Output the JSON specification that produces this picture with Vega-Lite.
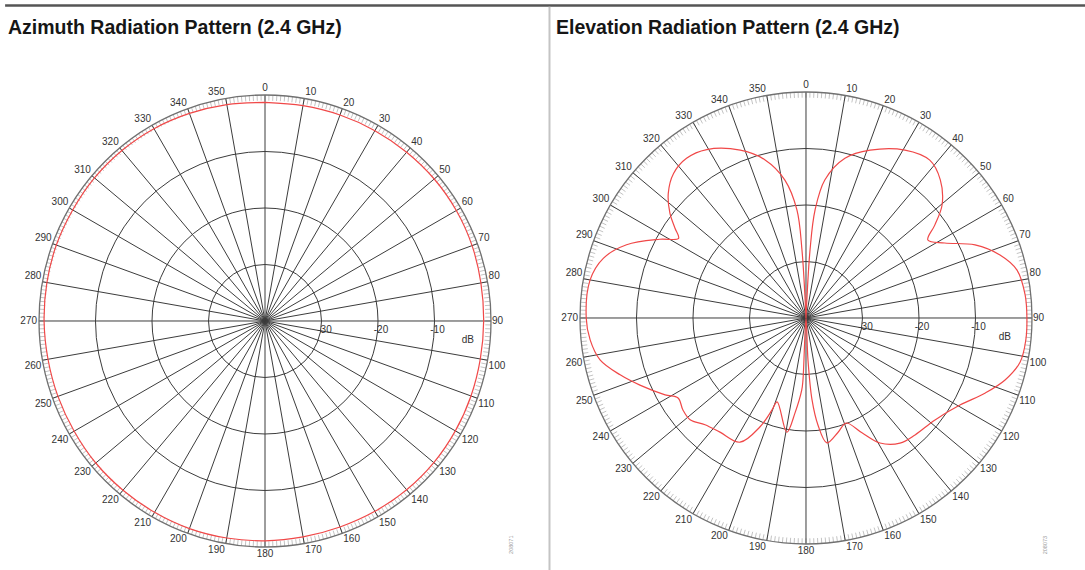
{
  "$schema": "https://vega.github.io/schema/vega-lite/v6.json",
  "padding": 0,
  "spacing": 0,
  "bounds": "flush",
  "background": "white",
  "config": {
    "view": {"stroke": null},
    "title": {"font": "Liberation Sans, Arial, sans-serif", "fontSize": 19.5, "fontWeight": "bold", "anchor": "start", "frame": "group", "offset": -38, "baseline": "alphabetic", "color": "#161616"},
    "text": {"font": "Liberation Sans, Arial, sans-serif", "fontSize": 10, "fill": "#333333"}
  },
  "datasets": {
    "deg": [{"a":0},{"a":1},{"a":2},{"a":3},{"a":4},{"a":5},{"a":6},{"a":7},{"a":8},{"a":9},{"a":10},{"a":11},{"a":12},{"a":13},{"a":14},{"a":15},{"a":16},{"a":17},{"a":18},{"a":19},{"a":20},{"a":21},{"a":22},{"a":23},{"a":24},{"a":25},{"a":26},{"a":27},{"a":28},{"a":29},{"a":30},{"a":31},{"a":32},{"a":33},{"a":34},{"a":35},{"a":36},{"a":37},{"a":38},{"a":39},{"a":40},{"a":41},{"a":42},{"a":43},{"a":44},{"a":45},{"a":46},{"a":47},{"a":48},{"a":49},{"a":50},{"a":51},{"a":52},{"a":53},{"a":54},{"a":55},{"a":56},{"a":57},{"a":58},{"a":59},{"a":60},{"a":61},{"a":62},{"a":63},{"a":64},{"a":65},{"a":66},{"a":67},{"a":68},{"a":69},{"a":70},{"a":71},{"a":72},{"a":73},{"a":74},{"a":75},{"a":76},{"a":77},{"a":78},{"a":79},{"a":80},{"a":81},{"a":82},{"a":83},{"a":84},{"a":85},{"a":86},{"a":87},{"a":88},{"a":89},{"a":90},{"a":91},{"a":92},{"a":93},{"a":94},{"a":95},{"a":96},{"a":97},{"a":98},{"a":99},{"a":100},{"a":101},{"a":102},{"a":103},{"a":104},{"a":105},{"a":106},{"a":107},{"a":108},{"a":109},{"a":110},{"a":111},{"a":112},{"a":113},{"a":114},{"a":115},{"a":116},{"a":117},{"a":118},{"a":119},{"a":120},{"a":121},{"a":122},{"a":123},{"a":124},{"a":125},{"a":126},{"a":127},{"a":128},{"a":129},{"a":130},{"a":131},{"a":132},{"a":133},{"a":134},{"a":135},{"a":136},{"a":137},{"a":138},{"a":139},{"a":140},{"a":141},{"a":142},{"a":143},{"a":144},{"a":145},{"a":146},{"a":147},{"a":148},{"a":149},{"a":150},{"a":151},{"a":152},{"a":153},{"a":154},{"a":155},{"a":156},{"a":157},{"a":158},{"a":159},{"a":160},{"a":161},{"a":162},{"a":163},{"a":164},{"a":165},{"a":166},{"a":167},{"a":168},{"a":169},{"a":170},{"a":171},{"a":172},{"a":173},{"a":174},{"a":175},{"a":176},{"a":177},{"a":178},{"a":179},{"a":180},{"a":181},{"a":182},{"a":183},{"a":184},{"a":185},{"a":186},{"a":187},{"a":188},{"a":189},{"a":190},{"a":191},{"a":192},{"a":193},{"a":194},{"a":195},{"a":196},{"a":197},{"a":198},{"a":199},{"a":200},{"a":201},{"a":202},{"a":203},{"a":204},{"a":205},{"a":206},{"a":207},{"a":208},{"a":209},{"a":210},{"a":211},{"a":212},{"a":213},{"a":214},{"a":215},{"a":216},{"a":217},{"a":218},{"a":219},{"a":220},{"a":221},{"a":222},{"a":223},{"a":224},{"a":225},{"a":226},{"a":227},{"a":228},{"a":229},{"a":230},{"a":231},{"a":232},{"a":233},{"a":234},{"a":235},{"a":236},{"a":237},{"a":238},{"a":239},{"a":240},{"a":241},{"a":242},{"a":243},{"a":244},{"a":245},{"a":246},{"a":247},{"a":248},{"a":249},{"a":250},{"a":251},{"a":252},{"a":253},{"a":254},{"a":255},{"a":256},{"a":257},{"a":258},{"a":259},{"a":260},{"a":261},{"a":262},{"a":263},{"a":264},{"a":265},{"a":266},{"a":267},{"a":268},{"a":269},{"a":270},{"a":271},{"a":272},{"a":273},{"a":274},{"a":275},{"a":276},{"a":277},{"a":278},{"a":279},{"a":280},{"a":281},{"a":282},{"a":283},{"a":284},{"a":285},{"a":286},{"a":287},{"a":288},{"a":289},{"a":290},{"a":291},{"a":292},{"a":293},{"a":294},{"a":295},{"a":296},{"a":297},{"a":298},{"a":299},{"a":300},{"a":301},{"a":302},{"a":303},{"a":304},{"a":305},{"a":306},{"a":307},{"a":308},{"a":309},{"a":310},{"a":311},{"a":312},{"a":313},{"a":314},{"a":315},{"a":316},{"a":317},{"a":318},{"a":319},{"a":320},{"a":321},{"a":322},{"a":323},{"a":324},{"a":325},{"a":326},{"a":327},{"a":328},{"a":329},{"a":330},{"a":331},{"a":332},{"a":333},{"a":334},{"a":335},{"a":336},{"a":337},{"a":338},{"a":339},{"a":340},{"a":341},{"a":342},{"a":343},{"a":344},{"a":345},{"a":346},{"a":347},{"a":348},{"a":349},{"a":350},{"a":351},{"a":352},{"a":353},{"a":354},{"a":355},{"a":356},{"a":357},{"a":358},{"a":359}],
    "rings": [{"db": -10, "lab": "-10"}, {"db": -20, "lab": "-20"}, {"db": -30, "lab": "-30"}],
    "outer": [{"db": 0}],
    "az": [{"a":0,"db":-1.3},{"a":10,"db":-1.3},{"a":20,"db":-1.2},{"a":30,"db":-1.1},{"a":40,"db":-1.0},{"a":50,"db":-0.9},{"a":60,"db":-0.9},{"a":70,"db":-1.0},{"a":80,"db":-1.2},{"a":90,"db":-1.3},{"a":100,"db":-1.3},{"a":110,"db":-1.2},{"a":120,"db":-1.1},{"a":130,"db":-1.0},{"a":140,"db":-1.0},{"a":150,"db":-1.1},{"a":160,"db":-1.2},{"a":170,"db":-1.2},{"a":180,"db":-1.1},{"a":190,"db":-1.0},{"a":200,"db":-0.9},{"a":210,"db":-0.9},{"a":220,"db":-0.9},{"a":230,"db":-0.9},{"a":240,"db":-1.0},{"a":250,"db":-1.0},{"a":260,"db":-1.0},{"a":270,"db":-0.9},{"a":280,"db":-0.8},{"a":290,"db":-0.7},{"a":300,"db":-0.7},{"a":310,"db":-0.6},{"a":320,"db":-0.6},{"a":330,"db":-0.7},{"a":340,"db":-0.9},{"a":350,"db":-1.1},{"a":360,"db":-1.3}],
    "el": [{"a":0,"db":-40},{"a":3.4,"db":-27.9},{"a":4.8,"db":-20.8},{"a":7.8,"db":-15.3},{"a":13.7,"db":-10.9},{"a":20.9,"db":-8.2},{"a":30.5,"db":-5.5},{"a":38.1,"db":-4.5},{"a":44.2,"db":-5.9},{"a":50.3,"db":-8.7},{"a":54.2,"db":-11.9},{"a":57.4,"db":-14.4},{"a":61.6,"db":-12.1},{"a":66.6,"db":-7.4},{"a":72,"db":-3.9},{"a":77.2,"db":-1.7},{"a":84,"db":-1.0},{"a":90,"db":-0.9},{"a":95.7,"db":-0.9},{"a":101.6,"db":-1.3},{"a":107.3,"db":-3.1},{"a":112.7,"db":-5.6},{"a":119.5,"db":-8.7},{"a":128.3,"db":-10.9},{"a":137,"db":-11.7},{"a":143.1,"db":-12.3},{"a":149.4,"db":-14.3},{"a":154,"db":-17.4},{"a":159.1,"db":-20.1},{"a":164.3,"db":-19.0},{"a":170.5,"db":-17.6},{"a":173.6,"db":-20.9},{"a":175.8,"db":-25.5},{"a":177.3,"db":-32.6},{"a":180,"db":-40},{"a":182.8,"db":-29.0},{"a":183.4,"db":-27.2},{"a":186.6,"db":-23.1},{"a":189.5,"db":-19.5},{"a":199,"db":-24.3},{"a":200.3,"db":-22.6},{"a":202.9,"db":-19.1},{"a":208,"db":-15.1},{"a":217,"db":-14.7},{"a":223.4,"db":-14.0},{"a":228.7,"db":-12.7},{"a":233.2,"db":-12.8},{"a":238,"db":-13.3},{"a":241.4,"db":-11.6},{"a":248,"db":-8.3},{"a":253,"db":-5.6},{"a":258.5,"db":-2.8},{"a":264.2,"db":-1.6},{"a":270,"db":-1.1},{"a":280,"db":-1.2},{"a":286.4,"db":-2.6},{"a":292.2,"db":-5.7},{"a":298.3,"db":-10.6},{"a":302,"db":-13.4},{"a":304.4,"db":-11.9},{"a":307.6,"db":-9.6},{"a":312.2,"db":-7.1},{"a":317.5,"db":-5.3},{"a":323.2,"db":-4.7},{"a":329.5,"db":-5.4},{"a":338.6,"db":-8.1},{"a":345.5,"db":-11.1},{"a":351.3,"db":-15.3},{"a":355.2,"db":-20.8},{"a":356.6,"db":-27.9},{"a":360,"db":-40}]
  },
  "hconcat": [
    {
      "width": 549,
      "height": 570,
      "title": {"text": "Azimuth Radiation Pattern (2.4 GHz)", "dx": 8},
      "layer": [
        {
          "data": {"values": [{"k": "top", "x1": -46.0, "x2": 50.265, "y": 55.84}]},
          "mark": {"type": "rule", "stroke": "#555555", "strokeWidth": 2.5},
          "encoding": {
            "x": {"field": "x1", "type": "quantitative", "scale": {"domain": [-46.903, 50.265], "nice": false, "zero": false}, "axis": null},
            "x2": {"field": "x2"},
            "y": {"field": "y", "type": "quantitative", "scale": {"domain": [-44.071, 56.814], "nice": false, "zero": false}, "axis": null}
          }
        },
        {
          "data": {"name": "deg"},
          "transform": [
            {"calculate": "39*sin(datum.a*PI/180)", "as": "tx1"},
            {"calculate": "39*cos(datum.a*PI/180)", "as": "ty1"},
            {"calculate": "40*sin(datum.a*PI/180)", "as": "tx2"},
            {"calculate": "40*cos(datum.a*PI/180)", "as": "ty2"}
          ],
          "mark": {"type": "rule", "stroke": "#b4b4b4", "strokeWidth": 0.8},
          "encoding": {
            "x": {"field": "tx1", "type": "quantitative", "scale": {"domain": [-46.903, 50.265], "nice": false, "zero": false}, "axis": null},
            "y": {"field": "ty1", "type": "quantitative", "scale": {"domain": [-44.071, 56.814], "nice": false, "zero": false}, "axis": null},
            "x2": {"field": "tx2"},
            "y2": {"field": "ty2"}
          }
        },
        {
          "data": {"name": "deg"},
          "transform": [
            {"filter": "datum.a % 10 == 0"},
            {"calculate": "0", "as": "cx"},
            {"calculate": "40*sin(datum.a*PI/180)", "as": "sx"},
            {"calculate": "40*cos(datum.a*PI/180)", "as": "sy"}
          ],
          "mark": {"type": "rule", "stroke": "#3c3c3c", "strokeWidth": 1},
          "encoding": {
            "x": {"field": "cx", "type": "quantitative", "scale": {"domain": [-46.903, 50.265], "nice": false, "zero": false}, "axis": null},
            "y": {"field": "cx", "type": "quantitative", "scale": {"domain": [-44.071, 56.814], "nice": false, "zero": false}, "axis": null},
            "x2": {"field": "sx"},
            "y2": {"field": "sy"}
          }
        },
        {
          "data": {"name": "rings"},
          "transform": [{"calculate": "datum.db+40", "as": "r"}, {"calculate": "0", "as": "cx"}],
          "mark": {"type": "point", "shape": "circle", "filled": false, "stroke": "#3c3c3c", "strokeWidth": 1, "opacity": 1},
          "encoding": {
            "x": {"field": "cx", "type": "quantitative", "scale": {"domain": [-46.903, 50.265], "nice": false, "zero": false}, "axis": null},
            "y": {"field": "cx", "type": "quantitative", "scale": {"domain": [-44.071, 56.814], "nice": false, "zero": false}, "axis": null},
            "size": {"field": "r", "type": "quantitative", "scale": {"type": "pow", "exponent": 2, "domain": [0, 40], "range": [0, 204304]}, "legend": null}
          }
        },
        {
          "data": {"name": "outer"},
          "transform": [{"calculate": "datum.db+40", "as": "r"}, {"calculate": "0", "as": "cx"}],
          "mark": {"type": "point", "shape": "circle", "filled": false, "stroke": "#707070", "strokeWidth": 1.3, "opacity": 1},
          "encoding": {
            "x": {"field": "cx", "type": "quantitative", "scale": {"domain": [-46.903, 50.265], "nice": false, "zero": false}, "axis": null},
            "y": {"field": "cx", "type": "quantitative", "scale": {"domain": [-44.071, 56.814], "nice": false, "zero": false}, "axis": null},
            "size": {"field": "r", "type": "quantitative", "scale": {"type": "pow", "exponent": 2, "domain": [0, 40], "range": [0, 204304]}, "legend": null}
          }
        },
        {
          "data": {"name": "az"},
          "transform": [
            {"calculate": "(datum.db+40)*sin(datum.a*PI/180)", "as": "px"},
            {"calculate": "(datum.db+40)*cos(datum.a*PI/180)", "as": "py"}
          ],
          "mark": {"type": "line", "stroke": "#f04848", "strokeWidth": 1.2, "interpolate": "catmull-rom"},
          "encoding": {
            "x": {"field": "px", "type": "quantitative", "scale": {"domain": [-46.903, 50.265], "nice": false, "zero": false}, "axis": null},
            "y": {"field": "py", "type": "quantitative", "scale": {"domain": [-44.071, 56.814], "nice": false, "zero": false}, "axis": null},
            "order": {"field": "a", "type": "quantitative"}
          }
        },
        {
          "data": {"name": "rings"},
          "transform": [{"calculate": "datum.db+40", "as": "rx"}, {"calculate": "0", "as": "cy"}],
          "mark": {"type": "text", "dx": 3, "dy": 9},
          "encoding": {
            "x": {"field": "rx", "type": "quantitative", "scale": {"domain": [-46.903, 50.265], "nice": false, "zero": false}, "axis": null},
            "y": {"field": "cy", "type": "quantitative", "scale": {"domain": [-44.071, 56.814], "nice": false, "zero": false}, "axis": null},
            "text": {"field": "lab", "type": "nominal"}
          }
        },
        {
          "data": {"values": [{"t": "dB", "x": 35.9, "y": -3.4}]},
          "mark": {"type": "text"},
          "encoding": {
            "x": {"field": "x", "type": "quantitative", "scale": {"domain": [-46.903, 50.265], "nice": false, "zero": false}, "axis": null},
            "y": {"field": "y", "type": "quantitative", "scale": {"domain": [-44.071, 56.814], "nice": false, "zero": false}, "axis": null},
            "text": {"field": "t", "type": "nominal"}
          }
        },
        {
          "data": {"values": [{"t": "208071", "x": 43.5, "y": -39.6}]},
          "mark": {"type": "text", "angle": 270, "fontSize": 5.5, "fill": "#999999"},
          "encoding": {
            "x": {"field": "x", "type": "quantitative", "scale": {"domain": [-46.903, 50.265], "nice": false, "zero": false}, "axis": null},
            "y": {"field": "y", "type": "quantitative", "scale": {"domain": [-44.071, 56.814], "nice": false, "zero": false}, "axis": null},
            "text": {"field": "t", "type": "nominal"}
          }
        },
        {
          "data": {"name": "deg"},
          "transform": [{"filter": "datum.a % 10 == 0 && datum.a > 0 && datum.a < 90"}, {"calculate": "40*sin(datum.a*PI/180)", "as": "lx"}, {"calculate": "40*cos(datum.a*PI/180)", "as": "ly"}],
          "mark": {"type": "text", "align": "left", "baseline": "bottom", "dx": 1, "dy": -1},
          "encoding": {
            "x": {"field": "lx", "type": "quantitative", "scale": {"domain": [-46.903, 50.265], "nice": false, "zero": false}, "axis": null},
            "y": {"field": "ly", "type": "quantitative", "scale": {"domain": [-44.071, 56.814], "nice": false, "zero": false}, "axis": null},
            "text": {"field": "a", "type": "quantitative"}
          }
        },
        {
          "data": {"name": "deg"},
          "transform": [{"filter": "datum.a % 10 == 0 && datum.a > 90 && datum.a < 180"}, {"calculate": "40*sin(datum.a*PI/180)", "as": "lx"}, {"calculate": "40*cos(datum.a*PI/180)", "as": "ly"}],
          "mark": {"type": "text", "align": "left", "baseline": "top", "dx": 1, "dy": 1},
          "encoding": {
            "x": {"field": "lx", "type": "quantitative", "scale": {"domain": [-46.903, 50.265], "nice": false, "zero": false}, "axis": null},
            "y": {"field": "ly", "type": "quantitative", "scale": {"domain": [-44.071, 56.814], "nice": false, "zero": false}, "axis": null},
            "text": {"field": "a", "type": "quantitative"}
          }
        },
        {
          "data": {"name": "deg"},
          "transform": [{"filter": "datum.a % 10 == 0 && datum.a > 180 && datum.a < 270"}, {"calculate": "40*sin(datum.a*PI/180)", "as": "lx"}, {"calculate": "40*cos(datum.a*PI/180)", "as": "ly"}],
          "mark": {"type": "text", "align": "right", "baseline": "top", "dx": -1, "dy": 1},
          "encoding": {
            "x": {"field": "lx", "type": "quantitative", "scale": {"domain": [-46.903, 50.265], "nice": false, "zero": false}, "axis": null},
            "y": {"field": "ly", "type": "quantitative", "scale": {"domain": [-44.071, 56.814], "nice": false, "zero": false}, "axis": null},
            "text": {"field": "a", "type": "quantitative"}
          }
        },
        {
          "data": {"name": "deg"},
          "transform": [{"filter": "datum.a % 10 == 0 && datum.a > 270"}, {"calculate": "40*sin(datum.a*PI/180)", "as": "lx"}, {"calculate": "40*cos(datum.a*PI/180)", "as": "ly"}],
          "mark": {"type": "text", "align": "right", "baseline": "bottom", "dx": -1, "dy": -1},
          "encoding": {
            "x": {"field": "lx", "type": "quantitative", "scale": {"domain": [-46.903, 50.265], "nice": false, "zero": false}, "axis": null},
            "y": {"field": "ly", "type": "quantitative", "scale": {"domain": [-44.071, 56.814], "nice": false, "zero": false}, "axis": null},
            "text": {"field": "a", "type": "quantitative"}
          }
        },
        {
          "data": {"name": "deg"},
          "transform": [{"filter": "datum.a == 0"}, {"calculate": "40*sin(datum.a*PI/180)", "as": "lx"}, {"calculate": "40*cos(datum.a*PI/180)", "as": "ly"}],
          "mark": {"type": "text", "align": "center", "baseline": "bottom", "dy": -2},
          "encoding": {
            "x": {"field": "lx", "type": "quantitative", "scale": {"domain": [-46.903, 50.265], "nice": false, "zero": false}, "axis": null},
            "y": {"field": "ly", "type": "quantitative", "scale": {"domain": [-44.071, 56.814], "nice": false, "zero": false}, "axis": null},
            "text": {"field": "a", "type": "quantitative"}
          }
        },
        {
          "data": {"name": "deg"},
          "transform": [{"filter": "datum.a == 180"}, {"calculate": "40*sin(datum.a*PI/180)", "as": "lx"}, {"calculate": "40*cos(datum.a*PI/180)", "as": "ly"}],
          "mark": {"type": "text", "align": "center", "baseline": "top", "dy": 2},
          "encoding": {
            "x": {"field": "lx", "type": "quantitative", "scale": {"domain": [-46.903, 50.265], "nice": false, "zero": false}, "axis": null},
            "y": {"field": "ly", "type": "quantitative", "scale": {"domain": [-44.071, 56.814], "nice": false, "zero": false}, "axis": null},
            "text": {"field": "a", "type": "quantitative"}
          }
        },
        {
          "data": {"name": "deg"},
          "transform": [{"filter": "datum.a == 90"}, {"calculate": "40*sin(datum.a*PI/180)", "as": "lx"}, {"calculate": "40*cos(datum.a*PI/180)", "as": "ly"}],
          "mark": {"type": "text", "align": "left", "baseline": "middle", "dx": 1},
          "encoding": {
            "x": {"field": "lx", "type": "quantitative", "scale": {"domain": [-46.903, 50.265], "nice": false, "zero": false}, "axis": null},
            "y": {"field": "ly", "type": "quantitative", "scale": {"domain": [-44.071, 56.814], "nice": false, "zero": false}, "axis": null},
            "text": {"field": "a", "type": "quantitative"}
          }
        },
        {
          "data": {"name": "deg"},
          "transform": [{"filter": "datum.a == 270"}, {"calculate": "40*sin(datum.a*PI/180)", "as": "lx"}, {"calculate": "40*cos(datum.a*PI/180)", "as": "ly"}],
          "mark": {"type": "text", "align": "right", "baseline": "middle", "dx": -2},
          "encoding": {
            "x": {"field": "lx", "type": "quantitative", "scale": {"domain": [-46.903, 50.265], "nice": false, "zero": false}, "axis": null},
            "y": {"field": "ly", "type": "quantitative", "scale": {"domain": [-44.071, 56.814], "nice": false, "zero": false}, "axis": null},
            "text": {"field": "a", "type": "quantitative"}
          }
        }
      ]
    },
    {
      "width": 536,
      "height": 570,
      "title": {"text": "Elevation Radiation Pattern (2.4 GHz)", "dx": 7},
      "layer": [
        {
          "data": {"values": [{"k": "top", "x1": -45.487, "x2": 49.381, "y": 55.31}]},
          "mark": {"type": "rule", "stroke": "#555555", "strokeWidth": 2.5},
          "encoding": {
            "x": {"field": "x1", "type": "quantitative", "scale": {"domain": [-45.487, 49.381], "nice": false, "zero": false}, "axis": null},
            "x2": {"field": "x2"},
            "y": {"field": "y", "type": "quantitative", "scale": {"domain": [-44.602, 56.283], "nice": false, "zero": false}, "axis": null}
          }
        },
        {
          "data": {"values": [{"k": "divider", "x": -45.4, "y1": -44.602, "y2": 55.1}]},
          "mark": {"type": "rule", "stroke": "#c4c4c4", "strokeWidth": 2},
          "encoding": {
            "x": {"field": "x", "type": "quantitative", "scale": {"domain": [-45.487, 49.381], "nice": false, "zero": false}, "axis": null},
            "y": {"field": "y1", "type": "quantitative", "scale": {"domain": [-44.602, 56.283], "nice": false, "zero": false}, "axis": null},
            "y2": {"field": "y2"}
          }
        },
        {
          "data": {"name": "deg"},
          "transform": [
            {"calculate": "39*sin(datum.a*PI/180)", "as": "tx1"},
            {"calculate": "39*cos(datum.a*PI/180)", "as": "ty1"},
            {"calculate": "40*sin(datum.a*PI/180)", "as": "tx2"},
            {"calculate": "40*cos(datum.a*PI/180)", "as": "ty2"}
          ],
          "mark": {"type": "rule", "stroke": "#b4b4b4", "strokeWidth": 0.8},
          "encoding": {
            "x": {"field": "tx1", "type": "quantitative", "scale": {"domain": [-45.487, 49.381], "nice": false, "zero": false}, "axis": null},
            "y": {"field": "ty1", "type": "quantitative", "scale": {"domain": [-44.602, 56.283], "nice": false, "zero": false}, "axis": null},
            "x2": {"field": "tx2"},
            "y2": {"field": "ty2"}
          }
        },
        {
          "data": {"name": "deg"},
          "transform": [
            {"filter": "datum.a % 10 == 0"},
            {"calculate": "0", "as": "cx"},
            {"calculate": "40*sin(datum.a*PI/180)", "as": "sx"},
            {"calculate": "40*cos(datum.a*PI/180)", "as": "sy"}
          ],
          "mark": {"type": "rule", "stroke": "#3c3c3c", "strokeWidth": 1},
          "encoding": {
            "x": {"field": "cx", "type": "quantitative", "scale": {"domain": [-45.487, 49.381], "nice": false, "zero": false}, "axis": null},
            "y": {"field": "cx", "type": "quantitative", "scale": {"domain": [-44.602, 56.283], "nice": false, "zero": false}, "axis": null},
            "x2": {"field": "sx"},
            "y2": {"field": "sy"}
          }
        },
        {
          "data": {"name": "rings"},
          "transform": [{"calculate": "datum.db+40", "as": "r"}, {"calculate": "0", "as": "cx"}],
          "mark": {"type": "point", "shape": "circle", "filled": false, "stroke": "#3c3c3c", "strokeWidth": 1, "opacity": 1},
          "encoding": {
            "x": {"field": "cx", "type": "quantitative", "scale": {"domain": [-45.487, 49.381], "nice": false, "zero": false}, "axis": null},
            "y": {"field": "cx", "type": "quantitative", "scale": {"domain": [-44.602, 56.283], "nice": false, "zero": false}, "axis": null},
            "size": {"field": "r", "type": "quantitative", "scale": {"type": "pow", "exponent": 2, "domain": [0, 40], "range": [0, 204304]}, "legend": null}
          }
        },
        {
          "data": {"name": "outer"},
          "transform": [{"calculate": "datum.db+40", "as": "r"}, {"calculate": "0", "as": "cx"}],
          "mark": {"type": "point", "shape": "circle", "filled": false, "stroke": "#707070", "strokeWidth": 1.3, "opacity": 1},
          "encoding": {
            "x": {"field": "cx", "type": "quantitative", "scale": {"domain": [-45.487, 49.381], "nice": false, "zero": false}, "axis": null},
            "y": {"field": "cx", "type": "quantitative", "scale": {"domain": [-44.602, 56.283], "nice": false, "zero": false}, "axis": null},
            "size": {"field": "r", "type": "quantitative", "scale": {"type": "pow", "exponent": 2, "domain": [0, 40], "range": [0, 204304]}, "legend": null}
          }
        },
        {
          "data": {"name": "el"},
          "transform": [
            {"calculate": "(datum.db+40)*sin(datum.a*PI/180)", "as": "px"},
            {"calculate": "(datum.db+40)*cos(datum.a*PI/180)", "as": "py"}
          ],
          "mark": {"type": "line", "stroke": "#f04848", "strokeWidth": 1.2, "interpolate": "catmull-rom"},
          "encoding": {
            "x": {"field": "px", "type": "quantitative", "scale": {"domain": [-45.487, 49.381], "nice": false, "zero": false}, "axis": null},
            "y": {"field": "py", "type": "quantitative", "scale": {"domain": [-44.602, 56.283], "nice": false, "zero": false}, "axis": null},
            "order": {"field": "a", "type": "quantitative"}
          }
        },
        {
          "data": {"name": "rings"},
          "transform": [{"calculate": "datum.db+40", "as": "rx"}, {"calculate": "0", "as": "cy"}],
          "mark": {"type": "text", "dx": 3, "dy": 9},
          "encoding": {
            "x": {"field": "rx", "type": "quantitative", "scale": {"domain": [-45.487, 49.381], "nice": false, "zero": false}, "axis": null},
            "y": {"field": "cy", "type": "quantitative", "scale": {"domain": [-44.602, 56.283], "nice": false, "zero": false}, "axis": null},
            "text": {"field": "lab", "type": "nominal"}
          }
        },
        {
          "data": {"values": [{"t": "dB", "x": 35.2, "y": -3.4}]},
          "mark": {"type": "text"},
          "encoding": {
            "x": {"field": "x", "type": "quantitative", "scale": {"domain": [-45.487, 49.381], "nice": false, "zero": false}, "axis": null},
            "y": {"field": "y", "type": "quantitative", "scale": {"domain": [-44.602, 56.283], "nice": false, "zero": false}, "axis": null},
            "text": {"field": "t", "type": "nominal"}
          }
        },
        {
          "data": {"values": [{"t": "208073", "x": 42.3, "y": -40.2}]},
          "mark": {"type": "text", "angle": 270, "fontSize": 5.5, "fill": "#999999"},
          "encoding": {
            "x": {"field": "x", "type": "quantitative", "scale": {"domain": [-45.487, 49.381], "nice": false, "zero": false}, "axis": null},
            "y": {"field": "y", "type": "quantitative", "scale": {"domain": [-44.602, 56.283], "nice": false, "zero": false}, "axis": null},
            "text": {"field": "t", "type": "nominal"}
          }
        },
        {
          "data": {"name": "deg"},
          "transform": [{"filter": "datum.a % 10 == 0 && datum.a > 0 && datum.a < 90"}, {"calculate": "40*sin(datum.a*PI/180)", "as": "lx"}, {"calculate": "40*cos(datum.a*PI/180)", "as": "ly"}],
          "mark": {"type": "text", "align": "left", "baseline": "bottom", "dx": 1, "dy": -1},
          "encoding": {
            "x": {"field": "lx", "type": "quantitative", "scale": {"domain": [-45.487, 49.381], "nice": false, "zero": false}, "axis": null},
            "y": {"field": "ly", "type": "quantitative", "scale": {"domain": [-44.602, 56.283], "nice": false, "zero": false}, "axis": null},
            "text": {"field": "a", "type": "quantitative"}
          }
        },
        {
          "data": {"name": "deg"},
          "transform": [{"filter": "datum.a % 10 == 0 && datum.a > 90 && datum.a < 180"}, {"calculate": "40*sin(datum.a*PI/180)", "as": "lx"}, {"calculate": "40*cos(datum.a*PI/180)", "as": "ly"}],
          "mark": {"type": "text", "align": "left", "baseline": "top", "dx": 1, "dy": 1},
          "encoding": {
            "x": {"field": "lx", "type": "quantitative", "scale": {"domain": [-45.487, 49.381], "nice": false, "zero": false}, "axis": null},
            "y": {"field": "ly", "type": "quantitative", "scale": {"domain": [-44.602, 56.283], "nice": false, "zero": false}, "axis": null},
            "text": {"field": "a", "type": "quantitative"}
          }
        },
        {
          "data": {"name": "deg"},
          "transform": [{"filter": "datum.a % 10 == 0 && datum.a > 180 && datum.a < 270"}, {"calculate": "40*sin(datum.a*PI/180)", "as": "lx"}, {"calculate": "40*cos(datum.a*PI/180)", "as": "ly"}],
          "mark": {"type": "text", "align": "right", "baseline": "top", "dx": -1, "dy": 1},
          "encoding": {
            "x": {"field": "lx", "type": "quantitative", "scale": {"domain": [-45.487, 49.381], "nice": false, "zero": false}, "axis": null},
            "y": {"field": "ly", "type": "quantitative", "scale": {"domain": [-44.602, 56.283], "nice": false, "zero": false}, "axis": null},
            "text": {"field": "a", "type": "quantitative"}
          }
        },
        {
          "data": {"name": "deg"},
          "transform": [{"filter": "datum.a % 10 == 0 && datum.a > 270"}, {"calculate": "40*sin(datum.a*PI/180)", "as": "lx"}, {"calculate": "40*cos(datum.a*PI/180)", "as": "ly"}],
          "mark": {"type": "text", "align": "right", "baseline": "bottom", "dx": -1, "dy": -1},
          "encoding": {
            "x": {"field": "lx", "type": "quantitative", "scale": {"domain": [-45.487, 49.381], "nice": false, "zero": false}, "axis": null},
            "y": {"field": "ly", "type": "quantitative", "scale": {"domain": [-44.602, 56.283], "nice": false, "zero": false}, "axis": null},
            "text": {"field": "a", "type": "quantitative"}
          }
        },
        {
          "data": {"name": "deg"},
          "transform": [{"filter": "datum.a == 0"}, {"calculate": "40*sin(datum.a*PI/180)", "as": "lx"}, {"calculate": "40*cos(datum.a*PI/180)", "as": "ly"}],
          "mark": {"type": "text", "align": "center", "baseline": "bottom", "dy": -2},
          "encoding": {
            "x": {"field": "lx", "type": "quantitative", "scale": {"domain": [-45.487, 49.381], "nice": false, "zero": false}, "axis": null},
            "y": {"field": "ly", "type": "quantitative", "scale": {"domain": [-44.602, 56.283], "nice": false, "zero": false}, "axis": null},
            "text": {"field": "a", "type": "quantitative"}
          }
        },
        {
          "data": {"name": "deg"},
          "transform": [{"filter": "datum.a == 180"}, {"calculate": "40*sin(datum.a*PI/180)", "as": "lx"}, {"calculate": "40*cos(datum.a*PI/180)", "as": "ly"}],
          "mark": {"type": "text", "align": "center", "baseline": "top", "dy": 2},
          "encoding": {
            "x": {"field": "lx", "type": "quantitative", "scale": {"domain": [-45.487, 49.381], "nice": false, "zero": false}, "axis": null},
            "y": {"field": "ly", "type": "quantitative", "scale": {"domain": [-44.602, 56.283], "nice": false, "zero": false}, "axis": null},
            "text": {"field": "a", "type": "quantitative"}
          }
        },
        {
          "data": {"name": "deg"},
          "transform": [{"filter": "datum.a == 90"}, {"calculate": "40*sin(datum.a*PI/180)", "as": "lx"}, {"calculate": "40*cos(datum.a*PI/180)", "as": "ly"}],
          "mark": {"type": "text", "align": "left", "baseline": "middle", "dx": 1},
          "encoding": {
            "x": {"field": "lx", "type": "quantitative", "scale": {"domain": [-45.487, 49.381], "nice": false, "zero": false}, "axis": null},
            "y": {"field": "ly", "type": "quantitative", "scale": {"domain": [-44.602, 56.283], "nice": false, "zero": false}, "axis": null},
            "text": {"field": "a", "type": "quantitative"}
          }
        },
        {
          "data": {"name": "deg"},
          "transform": [{"filter": "datum.a == 270"}, {"calculate": "40*sin(datum.a*PI/180)", "as": "lx"}, {"calculate": "40*cos(datum.a*PI/180)", "as": "ly"}],
          "mark": {"type": "text", "align": "right", "baseline": "middle", "dx": -2},
          "encoding": {
            "x": {"field": "lx", "type": "quantitative", "scale": {"domain": [-45.487, 49.381], "nice": false, "zero": false}, "axis": null},
            "y": {"field": "ly", "type": "quantitative", "scale": {"domain": [-44.602, 56.283], "nice": false, "zero": false}, "axis": null},
            "text": {"field": "a", "type": "quantitative"}
          }
        }
      ]
    }
  ]
}
